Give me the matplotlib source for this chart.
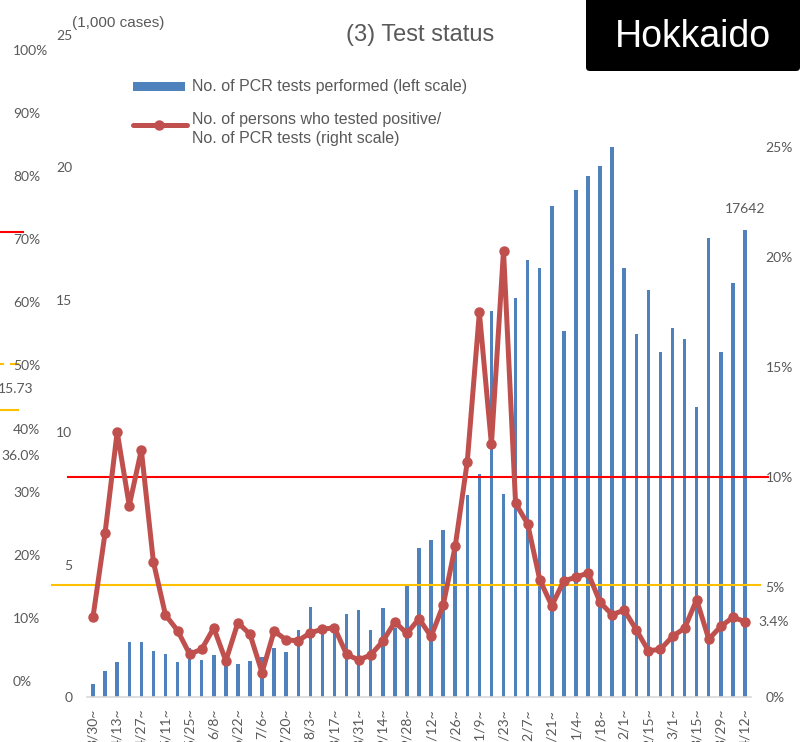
import matplotlib
matplotlib.use('Agg')
import matplotlib.pyplot as plt
import matplotlib.transforms as mtransforms
from matplotlib.patches import FancyBboxPatch, Rectangle
from matplotlib.lines import Line2D

# weekly PCR tests (1,000 cases), weeks starting 3/30/2020 .. 4/12/2021
pcr_tests = [0.49, 0.97, 1.31, 2.08, 2.07, 1.72, 1.62, 1.33, 1.85, 1.39,
             1.57, 1.40, 1.25, 1.36, 1.50, 1.85, 1.69, 2.53, 3.40, 2.55,
             2.45, 3.12, 3.29, 2.54, 3.35, 2.60, 4.26, 5.61, 5.92, 6.31,
             5.60, 7.64, 8.44, 14.57, 7.68, 15.07, 16.50, 16.19, 18.53, 13.83,
             19.13, 19.66, 20.04, 20.77, 16.19, 13.69, 15.37, 13.04, 13.93, 13.52,
             10.95, 17.32, 13.01, 15.62, 17.642]

# positives / PCR tests (%)
positive_rate = [3.65, 7.47, 12.05, 8.70, 11.23, 6.14, 3.73, 3.02, 1.95, 2.17,
                 3.14, 1.64, 3.38, 2.85, 1.11, 3.00, 2.59, 2.56, 2.92, 3.08,
                 3.15, 1.94, 1.68, 1.91, 2.53, 3.41, 2.89, 3.56, 2.75, 4.17,
                 6.85, 10.70, 17.48, 11.48, 20.29, 8.80, 7.87, 5.33, 4.15, 5.28,
                 5.44, 5.64, 4.30, 3.74, 3.95, 3.05, 2.10, 2.17, 2.75, 3.13,
                 4.42, 2.63, 3.21, 3.62, 3.43]

# every other week is labelled
week_labels = ['3/30~', '4/13~', '4/27~', '5/11~', '5/25~', '6/8~', '6/22~',
               '7/6~', '7/20~', '8/3~', '8/17~', '8/31~', '9/14~', '9/28~',
               '10/12~', '10/26~', '11/9~', '11/23~', '12/7~', '12/21~',
               '1/4~', '1/18~', '2/1~', '2/15~', '3/1~', '3/15~', '3/29~', '4/12~']

left_ticks = [0, 5, 10, 15, 20, 25]
right_ticks = [0, 5, 10, 15, 20, 25]
ghost_pct_ticks = [0, 10, 20, 30, 40, 50, 60, 70, 80, 90, 100]

GREY = '#595959'
BLUE = '#4F81BD'
RED = '#C0504D'

W, H = 802, 742


def fx(px):
    return px / W


def fy(py):
    return 1 - py / H


plt.rcParams['font.family'] = ['Lato', 'DejaVu Sans']

fig = plt.figure(figsize=(W / 100, H / 100), dpi=100)
ax = fig.add_axes([fx(87), fy(697), 664 / W, 662 / H])

xs = list(range(len(pcr_tests)))
ax.bar(xs, pcr_tests, width=0.29, color=BLUE, zorder=2)
ax.set_xlim(-0.5, len(pcr_tests) - 0.5)
ax.set_ylim(0, 25)
ax.set_yticks(left_ticks)
ax.set_yticklabels([str(t) for t in left_ticks])
ax.tick_params(axis='y', length=0, pad=10.5, labelsize=10, labelcolor=GREY)
ax.set_xticks(xs[::2])
ax.set_xticklabels(week_labels, rotation=90, fontsize=10, color=GREY)
ax.tick_params(axis='x', length=0, pad=8.5)
for s in ['top', 'right', 'left']:
    ax.spines[s].set_visible(False)
ax.spines['bottom'].set_color('#D9D9D9')
ax.spines['bottom'].set_linewidth(1.2)

ax2 = ax.twinx()
ax2.set_ylim(0, 30.09)
ax2.set_yticks(right_ticks)
ax2.set_yticklabels([f'{t}%' for t in right_ticks])
ax2.tick_params(axis='y', length=0, pad=10.5, labelsize=10, labelcolor=GREY)
for s in ax2.spines.values():
    s.set_visible(False)

# reference lines (10% and 5%)
ax2.axhline(10, xmin=(68 - 87) / 664, xmax=(768 - 87) / 664, color='#FF0000',
            lw=1.5, clip_on=False, zorder=2)
ax2.axhline(5.1, xmin=(52 - 87) / 664, xmax=(760 - 87) / 664, color='#FFC000',
            lw=1.5, clip_on=False, zorder=2)

ax2.plot(xs, positive_rate, color=RED, lw=3.6, marker='o', ms=6.5, zorder=3,
         solid_joinstyle='round')

ax.annotate(f'{round(pcr_tests[-1] * 1000)}', (xs[-1], pcr_tests[-1]),
            xytext=(0, 15), textcoords='offset points', ha='center',
            va='center', fontsize=10, color=GREY)
ax2.annotate(f'{positive_rate[-1]:.1f}%', (xs[-1], positive_rate[-1]),
             xytext=(9.4, 0), textcoords='offset points', ha='left',
             va='center', fontsize=10, color=GREY)

# titles
fig.text(fx(420), fy(35), '(3) Test status', ha='center', va='center',
         fontsize=17, color=GREY, family='Liberation Sans')
fig.text(fx(72), fy(23), '(1,000 cases)', ha='left', va='center',
         fontsize=11, color=GREY, family='Liberation Sans')

box = FancyBboxPatch((fx(586), fy(71)), fx(800) - fx(586), 0.2,
                     boxstyle='round,pad=0,rounding_size=0.005',
                     transform=fig.transFigure, facecolor='black',
                     edgecolor='none')
fig.add_artist(box)
fig.text(fx(693), fy(37), 'Hokkaido', ha='center', va='center', fontsize=27,
         color='white', family='Liberation Sans')

# legend
fig.add_artist(Rectangle((fx(133), fy(91)), fx(185) - fx(133), 9 / H,
                         transform=fig.transFigure, facecolor=BLUE,
                         edgecolor='none'))
fig.text(fx(192), fy(86), 'No. of PCR tests performed (left scale)',
         ha='left', va='center', fontsize=11.5, color=GREY,
         family='Liberation Sans')
fig.add_artist(Line2D([fx(133), fx(187)], [fy(125), fy(125)],
                      transform=fig.transFigure, color=RED, lw=3.6,
                      solid_capstyle='round'))
fig.add_artist(Line2D([fx(159)], [fy(125)], transform=fig.transFigure,
                      color=RED, marker='o', ms=6.5))
fig.text(fx(192), fy(129), 'No. of persons who tested positive/\nNo. of PCR tests (right scale)',
         ha='left', va='center', fontsize=11.5, color=GREY,
         family='Liberation Sans', linespacing=1.4)

# leftover axis of the neighbouring chart on the left edge
ghost = fig.add_axes([0, fy(682), 0.001, 631 / H])
ghost.set_ylim(0, 100)
ghost.axis('off')
tr = mtransforms.blended_transform_factory(fig.transFigure, ghost.transData)
for t in ghost_pct_ticks:
    fig.text(fx(13), t, f'{t}%', transform=tr, ha='left', va='center',
             fontsize=10, color=GREY)

fig.add_artist(Line2D([0, fx(22.7)], [fy(232), fy(232)],
                      transform=fig.transFigure, color='#FF0000', lw=1.5))
fig.add_artist(Line2D([0, fx(3.3)], [fy(364), fy(364)],
                      transform=fig.transFigure, color='#FFC000', lw=1.5))
fig.add_artist(Line2D([fx(11), fx(18.3)], [fy(364), fy(364)],
                      transform=fig.transFigure, color='#FFC000', lw=1.5))
fig.add_artist(Line2D([0, fx(18.3)], [fy(410), fy(410)],
                      transform=fig.transFigure, color='#FFC000', lw=1.5))
fig.text(fx(33.5), fy(389), '15.73', ha='right', va='center', fontsize=10,
         color=GREY)
fig.text(fx(39.5), fy(456), '36.0%', ha='right', va='center', fontsize=10,
         color=GREY)

fig.savefig('out.png', dpi=100)
